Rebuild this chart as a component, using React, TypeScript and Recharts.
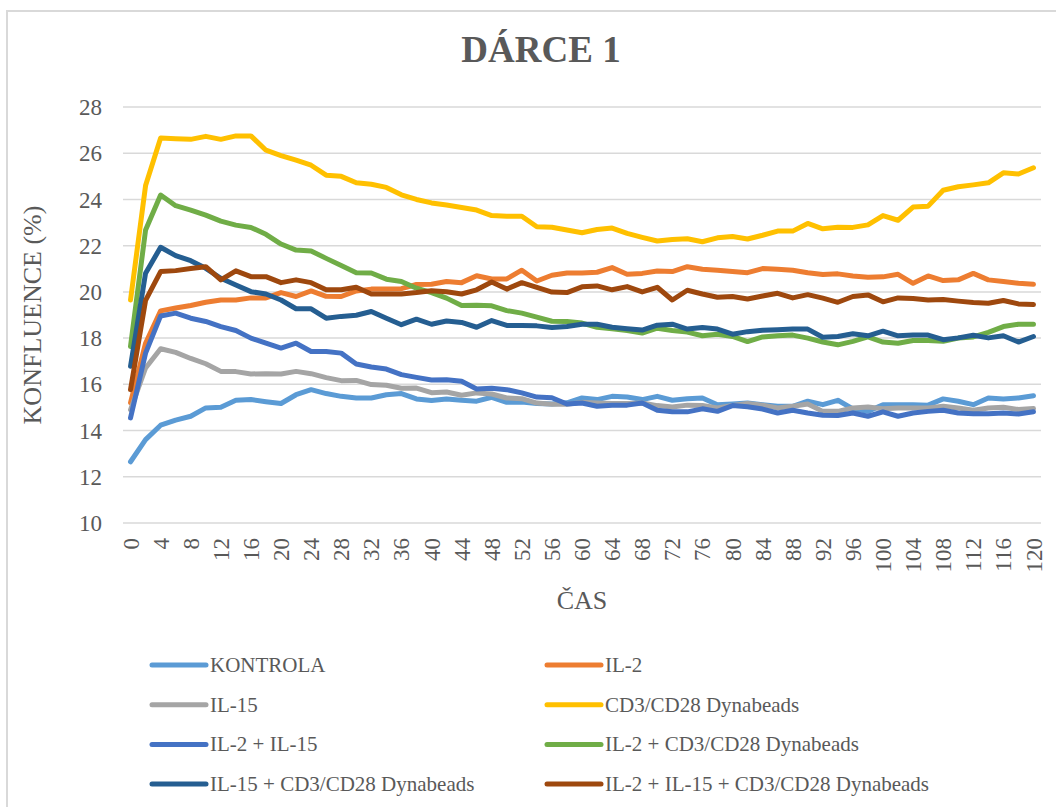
import React from "react";
import { LineChart, Line, XAxis, YAxis, CartesianGrid } from "recharts";

const hours = [
  0, 2, 4, 6, 8, 10, 12, 14, 16, 18, 20, 22, 24, 26, 28, 30, 32, 34, 36, 38, 40,
  42, 44, 46, 48, 50, 52, 54, 56, 58, 60, 62, 64, 66, 68, 70, 72, 74, 76, 78, 80,
  82, 84, 86, 88, 90, 92, 94, 96, 98, 100, 102, 104, 106, 108, 110, 112, 114, 116, 118, 120,
];

const xTicks = [0, 4, 8, 12, 16, 20, 24, 28, 32, 36, 40, 44, 48, 52, 56, 60, 64, 68, 72, 76, 80, 84, 88, 92, 96, 100, 104, 108, 112, 116, 120];
const yTicks = [10, 12, 14, 16, 18, 20, 22, 24, 26, 28];

const kontrola = [
  12.65, 13.61, 14.23, 14.45, 14.62, 14.98, 15.01, 15.31, 15.34, 15.25,
  15.17, 15.55, 15.77, 15.6, 15.48, 15.41, 15.41, 15.55, 15.6, 15.37,
  15.3, 15.37, 15.31, 15.27, 15.44, 15.22, 15.24, 15.17, 15.15, 15.2,
  15.41, 15.34, 15.48, 15.45, 15.34, 15.48, 15.31, 15.38, 15.41, 15.12,
  15.15, 15.19, 15.12, 15.05, 15.05, 15.27, 15.12, 15.31, 14.94, 14.83,
  15.12, 15.12, 15.12, 15.1, 15.37, 15.27, 15.12, 15.41, 15.37, 15.41,
  15.51,
];

const il2 = [
  15.2, 17.78, 19.18, 19.3, 19.41, 19.55, 19.65, 19.65, 19.74, 19.74,
  19.97, 19.8, 20.04, 19.81, 19.8, 20.04, 20.12, 20.12, 20.14, 20.32,
  20.33, 20.45, 20.4, 20.7, 20.56, 20.56, 20.94, 20.47, 20.72, 20.82,
  20.82, 20.85, 21.05, 20.76, 20.8, 20.9, 20.88, 21.09, 20.98, 20.94,
  20.88, 20.83, 21.01, 20.98, 20.94, 20.83, 20.75, 20.78, 20.69, 20.63,
  20.65, 20.76, 20.37, 20.69, 20.49, 20.52, 20.8, 20.52, 20.45, 20.37,
  20.33,
];

const il15 = [
  14.9, 16.71, 17.54, 17.38, 17.12, 16.89, 16.56, 16.55, 16.45, 16.46,
  16.45, 16.56, 16.46, 16.29, 16.16, 16.17, 15.99, 15.96, 15.83, 15.84,
  15.64, 15.67, 15.53, 15.63, 15.58, 15.41, 15.38, 15.19, 15.14, 15.14,
  15.22, 15.19, 15.17, 15.17, 15.19, 15.08, 15.02, 15.1, 15.08, 14.98,
  15.09, 15.17, 15.1, 14.98, 15.05, 15.15, 14.83, 14.83, 14.98, 15.02,
  14.94, 14.98, 14.98, 14.98, 15.05, 14.98, 14.88, 14.98, 15.01, 14.91,
  14.95,
];

const cd3cd28 = [
  19.65, 24.6, 26.66, 26.63, 26.6, 26.73, 26.6, 26.75, 26.75, 26.13,
  25.9, 25.7, 25.48, 25.05, 25.0, 24.72, 24.66, 24.52, 24.2, 24.0,
  23.85, 23.76, 23.65, 23.54, 23.3, 23.27, 23.27, 22.82, 22.8, 22.68,
  22.56, 22.7, 22.76, 22.53, 22.36, 22.2, 22.27, 22.3, 22.17, 22.34,
  22.4, 22.29, 22.45, 22.63, 22.63, 22.96, 22.73, 22.8, 22.79, 22.9,
  23.3, 23.1, 23.67, 23.71, 24.4, 24.55, 24.63, 24.72, 25.15, 25.1,
  25.37,
];

const il2il15 = [
  14.55, 17.35, 18.96, 19.08, 18.86, 18.72, 18.5, 18.33, 18.0, 17.78,
  17.57, 17.78, 17.42, 17.42, 17.35, 16.88, 16.75, 16.66, 16.42, 16.3,
  16.19, 16.2, 16.13, 15.8, 15.83, 15.77, 15.63, 15.45, 15.42, 15.15,
  15.19, 15.05, 15.1, 15.1, 15.19, 14.88, 14.81, 14.81, 14.94, 14.83,
  15.08, 15.03, 14.93, 14.76, 14.88, 14.76, 14.66, 14.65, 14.76, 14.62,
  14.81, 14.62, 14.76, 14.83, 14.88, 14.76, 14.73, 14.73, 14.76, 14.72,
  14.81,
];

const il2cd3 = [
  17.64, 22.68, 24.19, 23.73, 23.54, 23.32, 23.06, 22.89, 22.79, 22.49,
  22.07, 21.81, 21.77, 21.45, 21.14, 20.83, 20.82, 20.55, 20.45, 20.16,
  19.97, 19.73, 19.41, 19.42, 19.4, 19.19, 19.08, 18.91, 18.73, 18.72,
  18.65, 18.47, 18.4, 18.33, 18.22, 18.43, 18.33, 18.26, 18.1, 18.17,
  18.07, 17.85, 18.05, 18.1, 18.13, 18.0, 17.83, 17.71, 17.86, 18.05,
  17.83, 17.78, 17.9, 17.9, 17.86, 18.0, 18.05, 18.25, 18.5, 18.6,
  18.6,
];

const il15cd3 = [
  16.78, 20.81, 21.93, 21.57, 21.35, 21.02, 20.59, 20.3, 20.01, 19.91,
  19.65, 19.27, 19.27, 18.86, 18.94, 18.99, 19.15, 18.86, 18.58, 18.82,
  18.6, 18.74, 18.68, 18.47, 18.76, 18.55, 18.55, 18.53, 18.46, 18.5,
  18.6, 18.6, 18.47, 18.41, 18.35, 18.56, 18.6, 18.39, 18.46, 18.39,
  18.17, 18.28, 18.34, 18.36, 18.39, 18.39, 18.04, 18.07, 18.19, 18.1,
  18.3, 18.1, 18.13, 18.13, 17.93, 18.01, 18.12, 18.01, 18.1, 17.83,
  18.07,
];

const il2il15cd3 = [
  15.77, 19.63, 20.88, 20.92, 21.01, 21.09, 20.52, 20.91, 20.66, 20.66,
  20.4, 20.52, 20.4, 20.09, 20.09, 20.2, 19.91, 19.91, 19.91, 19.97,
  20.05, 20.01, 19.91, 20.09, 20.43, 20.12, 20.4, 20.2, 19.99, 19.97,
  20.22, 20.26, 20.09, 20.23, 20.0, 20.2, 19.65, 20.07, 19.91, 19.77,
  19.8, 19.69, 19.82, 19.94, 19.74, 19.88, 19.73, 19.55, 19.8, 19.87,
  19.57, 19.74, 19.71, 19.65, 19.67, 19.6, 19.54, 19.51, 19.63, 19.48,
  19.45,
];

const series = [
  { key: "k", name: "KONTROLA", color: "#5B9BD5", values: kontrola },
  { key: "a", name: "IL-2", color: "#ED7D31", values: il2 },
  { key: "b", name: "IL-15", color: "#A5A5A5", values: il15 },
  { key: "c", name: "CD3/CD28 Dynabeads", color: "#FFC000", values: cd3cd28 },
  { key: "d", name: "IL-2 + IL-15", color: "#4472C4", values: il2il15 },
  { key: "e", name: "IL-2 + CD3/CD28 Dynabeads", color: "#70AD47", values: il2cd3 },
  { key: "f", name: "IL-15 + CD3/CD28 Dynabeads", color: "#255E91", values: il15cd3 },
  { key: "g", name: "IL-2 + IL-15 + CD3/CD28 Dynabeads", color: "#9E480E", values: il2il15cd3 },
];

const rows = hours.map((t, i) => {
  const row: Record<string, number> = { t };
  series.forEach((s) => {
    row[s.key] = s.values[i];
  });
  return row;
});

const textColor = "#595959";
const serif = '"Liberation Serif", "Times New Roman", serif';

const XTick = (props: any) => {
  const { x, y, payload } = props;
  return (
    <text
      x={x}
      y={y}
      transform={`rotate(-90 ${x} ${y})`}
      textAnchor="end"
      dy="0.35em"
      fill={textColor}
      fontSize={23}
      fontFamily={serif}
    >
      {payload.value}
    </text>
  );
};

export default function App() {
  return (
    <div
      style={{
        position: "absolute",
        left: 0,
        top: 0,
        width: 1056,
        height: 807,
        overflow: "hidden",
        background: "#fff",
        fontFamily: serif,
      }}
    >
      <div
        style={{
          position: "absolute",
          left: 6,
          top: 10,
          width: 1100,
          height: 900,
          border: "2px solid #d9d9d9",
        }}
      />
      <div style={{ position: "absolute", left: 0, top: 0 }}>
        <LineChart
          width={1056}
          height={807}
          data={rows}
          margin={{ top: 107, right: 15, bottom: 224, left: 0 }}
          style={{ fontFamily: serif }}
        >
          <CartesianGrid vertical={false} stroke="#d9d9d9" strokeWidth={1.5} />
          <XAxis
            dataKey="t"
            type="number"
            domain={[-1, 121]}
            ticks={xTicks}
            interval={0}
            height={60}
            axisLine={false}
            tickLine={false}
            tickSize={0}
            tickMargin={15}
            tick={<XTick />}
          />
          <YAxis
            type="number"
            domain={[10, 28]}
            ticks={yTicks}
            interval={0}
            width={123}
            axisLine={false}
            tickLine={false}
            tickSize={0}
            tickMargin={21}
            tick={{ fill: textColor, fontSize: 23, fontFamily: serif }}
          />
          {series.map((s) => (
            <Line
              key={s.key}
              dataKey={s.key}
              name={s.name}
              stroke={s.color}
              strokeWidth={5}
              strokeLinejoin="round"
              strokeLinecap="round"
              dot={false}
              activeDot={false}
              type="linear"
              isAnimationActive={false}
            />
          ))}
        </LineChart>
      </div>
      <svg
        width={1056}
        height={807}
        style={{ position: "absolute", left: 0, top: 0, pointerEvents: "none" }}
        fontFamily={serif}
      >
        <text x={541} y={62} textAnchor="middle" fontSize={37} fontWeight="bold" fill={textColor}>
          DÁRCE 1
        </text>
        <text transform="translate(41 315) rotate(-90)" textAnchor="middle" fontSize={26} fill={textColor}>
          KONFLUENCE (%)
        </text>
        <text x={582} y={609} textAnchor="middle" fontSize={26} fill={textColor}>
          ČAS
        </text>
        {series.map((s, i) => {
          const col = i % 2;
          const row = Math.floor(i / 2);
          const ly = 665 + row * 39.7;
          const lx = col === 0 ? 152 : 547;
          return (
            <g key={s.key}>
              <line x1={lx} x2={lx + 54} y1={ly} y2={ly} stroke={s.color} strokeWidth={5} strokeLinecap="round" />
              <text x={lx + 58} y={ly + 7} fontSize={21} fill={textColor}>
                {s.name}
              </text>
            </g>
          );
        })}
      </svg>
    </div>
  );
}
